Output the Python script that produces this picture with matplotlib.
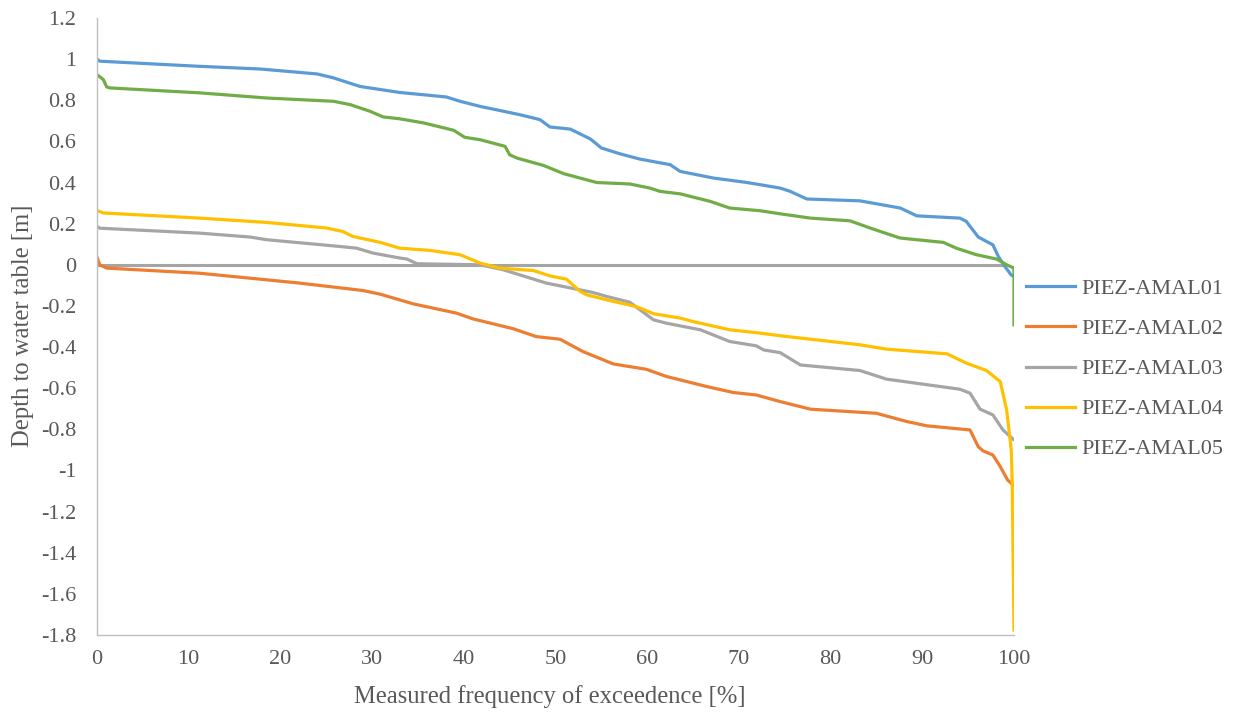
import matplotlib
matplotlib.use("Agg")
import matplotlib.pyplot as plt

# ---- data ----
series_names = ["PIEZ-AMAL01", "PIEZ-AMAL02", "PIEZ-AMAL03", "PIEZ-AMAL04", "PIEZ-AMAL05"]
colors = ["#5B9BD5", "#ED7D31", "#A5A5A5", "#FFC000", "#70AD47"]

amal01_x = [0, 0.3, 11.2, 17.8, 24.0, 25.7, 28.7, 33.0, 38.1, 39.6, 41.8, 46.1, 48.3, 49.4, 51.6,
            53.8, 55.0, 57.0, 59.2, 62.5, 63.6, 67.2, 70.9, 74.5, 75.6, 77.4, 83.2, 87.6, 89.4,
            94.1, 94.8, 96.1, 97.7, 98.3, 99.0, 99.7, 99.9]
amal01_y = [1.0, 0.99, 0.965, 0.952, 0.928, 0.910, 0.867, 0.838, 0.816, 0.795, 0.770, 0.730, 0.706,
            0.670, 0.660, 0.612, 0.568, 0.540, 0.514, 0.487, 0.454, 0.422, 0.400, 0.373, 0.357,
            0.320, 0.311, 0.276, 0.238, 0.227, 0.211, 0.135, 0.097, 0.040, -0.008, -0.050, -0.055]

amal02_x = [0, 0.3, 1.05, 11.2, 18.5, 22.1, 29.0, 30.9, 34.5, 39.2, 41.0, 45.4, 47.9, 50.5, 53.0,
            56.3, 59.9, 62.1, 66.5, 69.4, 71.9, 74.5, 77.8, 85.0, 88.3, 90.5, 95.2, 96.1, 96.6,
            97.7, 98.5, 99.3, 99.9]
amal02_y = [0.037, 0.0, -0.016, -0.041, -0.073, -0.089, -0.125, -0.143, -0.190, -0.235, -0.263,
            -0.311, -0.349, -0.362, -0.422, -0.482, -0.508, -0.543, -0.592, -0.621, -0.633, -0.665,
            -0.702, -0.722, -0.762, -0.783, -0.803, -0.884, -0.904, -0.925, -0.981, -1.046, -1.071]

amal03_x = [0, 0.3, 11.2, 16.7, 18.5, 25.8, 28.3, 30.1, 33.0, 33.8, 34.9, 41.8, 44.3, 49.0, 52.7,
            54.1, 55.6, 58.1, 60.7, 62.1, 65.8, 69.0, 71.9, 72.7, 74.5, 76.7, 83.2, 86.1, 94.1,
            95.2, 96.3, 97.7, 98.8, 99.9]
amal03_y = [0.186, 0.178, 0.154, 0.135, 0.122, 0.092, 0.081, 0.057, 0.033, 0.028, 0.005, 0.0,
            -0.024, -0.089, -0.122, -0.135, -0.154, -0.182, -0.268, -0.284, -0.316, -0.373, -0.394,
            -0.414, -0.427, -0.487, -0.514, -0.556, -0.605, -0.624, -0.702, -0.730, -0.803, -0.848]

amal04_x = [0, 0.7, 11.2, 18.5, 25.0, 26.8, 27.9, 30.9, 33.0, 36.3, 39.6, 41.8, 43.9, 47.6, 49.4,
            51.2, 52.7, 53.4, 56.3, 58.8, 60.7, 63.6, 65.0, 69.0, 72.3, 74.5, 83.2, 86.1, 92.7,
            94.8, 97.0, 98.5, 99.2, 99.7, 99.8, 100.0]
amal04_y = [0.264, 0.252, 0.227, 0.206, 0.179, 0.162, 0.138, 0.109, 0.081, 0.070, 0.049, 0.008,
            -0.016, -0.028, -0.054, -0.070, -0.130, -0.146, -0.178, -0.203, -0.238, -0.259, -0.276,
            -0.316, -0.332, -0.345, -0.389, -0.410, -0.433, -0.478, -0.514, -0.568, -0.706, -0.90,
            -1.05, -1.776]

amal05_x = [0, 0.7, 1.05, 1.4, 11.2, 18.5, 25.8, 27.6, 29.8, 31.2, 33.0, 35.6, 38.9, 40.1, 41.8,
            44.5, 45.0, 45.8, 48.7, 50.9, 54.5, 58.1, 60.3, 61.4, 63.6, 66.9, 69.0, 72.3, 74.5,
            77.8, 82.1, 84.3, 86.5, 87.6, 92.3, 93.7, 95.9, 98.1, 99.2, 100.0, 100.0]
amal05_y = [0.925, 0.90, 0.865, 0.86, 0.836, 0.811, 0.795, 0.779, 0.746, 0.719, 0.710, 0.690,
            0.654, 0.620, 0.608, 0.576, 0.535, 0.519, 0.483, 0.443, 0.400, 0.393, 0.373, 0.357,
            0.345, 0.308, 0.276, 0.263, 0.248, 0.227, 0.214, 0.179, 0.146, 0.130, 0.109, 0.081,
            0.049, 0.028, 0.0, -0.016, -0.292]

# zero reference line drawn in the reference (grey, ends just before 100 %)
zero_line_x = [0, 98.8]
zero_line_y = [0, 0]

x_ticks = [0, 10, 20, 30, 40, 50, 60, 70, 80, 90, 100]
y_ticks = [1.2, 1, 0.8, 0.6, 0.4, 0.2, 0, -0.2, -0.4, -0.6, -0.8, -1, -1.2, -1.4, -1.6, -1.8]

# ---- plotting ----
plt.rcParams['font.family'] = ['Liberation Serif', 'DejaVu Serif']
text_color = "#595959"

fig = plt.figure(figsize=(12.33, 7.13), dpi=100)
ax = fig.add_axes([97 / 1233, 1 - 635 / 713, (1014 - 97) / 1233, (635 - 18) / 713])

ax.plot(zero_line_x, zero_line_y, color=colors[2], lw=2.2, solid_capstyle='butt')
xs = [amal01_x, amal02_x, amal03_x, amal04_x, amal05_x]
ys = [amal01_y, amal02_y, amal03_y, amal04_y, amal05_y]
handles = []
for i in range(5):
    h, = ax.plot(xs[i], ys[i], color=colors[i], lw=2.3, label=series_names[i],
                 solid_joinstyle='round')
    handles.append(h)

ax.set_xlim(0, 100)
ax.set_ylim(-1.8, 1.2)
ax.set_xticks(x_ticks)
ax.set_xticklabels([str(t) for t in x_ticks])
ax.set_yticks(y_ticks)
ax.set_yticklabels([("%g" % t) for t in y_ticks])
ax.tick_params(axis='both', length=0, labelsize=16, colors=text_color)
ax.tick_params(axis='y', pad=15)
ax.tick_params(axis='x', pad=11)

for s in ['top', 'right']:
    ax.spines[s].set_visible(False)
for s in ['left', 'bottom']:
    ax.spines[s].set_color("#BFBFBF")
    ax.spines[s].set_linewidth(1.0)

fig.text(550 / 1233, 1 - 697 / 713, "Measured frequency of exceedence [%]", ha='center', va='center',
         fontsize=17.7, color=text_color)
fig.text(23 / 1233, 1 - 326 / 713, "Depth to water table [m]", ha='center', va='center',
         rotation=90, fontsize=17.7, color=text_color)

leg = fig.legend(handles=handles, loc='center left', bbox_to_anchor=(1026 / 1233, 1 - 369 / 713),
                 frameon=False, fontsize=16, handlelength=2.2, handletextpad=0.3,
                 labelspacing=0.88, borderaxespad=0, borderpad=0)
for t in leg.get_texts():
    t.set_color(text_color)

fig.savefig("out.png", dpi=100)
